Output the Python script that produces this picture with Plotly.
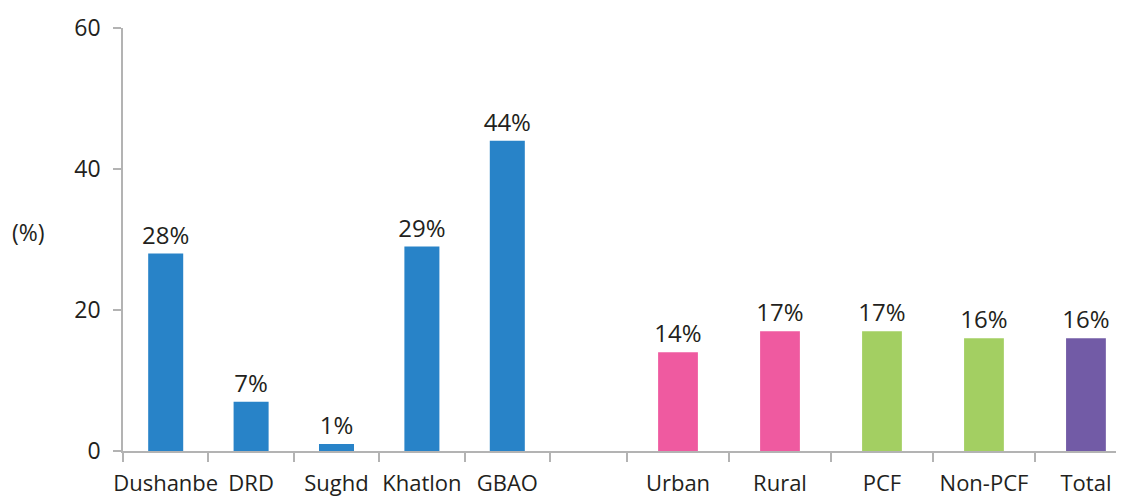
import plotly.graph_objects as go

# ---------- Data ----------
regions = ["Dushanbe", "DRD", "Sughd", "Khatlon", "GBAO"]
region_vals = [28, 7, 1, 29, 44]

groups = ["Urban", "Rural", "PCF", "Non-PCF", "Total"]
group_vals = [14, 17, 17, 16, 16]

blue = "#2883c8"
group_colors = ["#ef5aa0", "#ef5aa0", "#a3cf62", "#a3cf62", "#725ba6"]

font_family = "Open Sans, Noto Sans, sans-serif"
text_color = "#231f20"
axis_color = "#b3b3b3"

fig = go.Figure()

fig.add_trace(go.Bar(
    x=regions, y=region_vals, xaxis="x", yaxis="y",
    marker=dict(color=blue, line=dict(width=0)),
    texttemplate="%{y}%", textposition="outside", cliponaxis=False,
    constraintext="none",
    textfont=dict(size=24, color=text_color),
    width=0.41, showlegend=False,
))
fig.add_trace(go.Bar(
    x=groups, y=group_vals, xaxis="x2", yaxis="y",
    marker=dict(color=group_colors, line=dict(width=0)),
    texttemplate="%{y}%", textposition="outside", cliponaxis=False,
    constraintext="none",
    textfont=dict(size=24, color=text_color),
    width=0.39, showlegend=False,
))

split = 427 / 1001

common_x = dict(
    type="category", showline=True, linecolor=axis_color, linewidth=1.5,
    ticks="outside", tickson="boundaries", ticklen=9, tickcolor=axis_color,
    tickwidth=1.5, showgrid=False, zeroline=False, fixedrange=True,
    tickangle=0, automargin=False,
    tickfont=dict(size=22, color=text_color), ticklabelstandoff=12,
)

# page body has an 8px margin, so the figure is sized to fit the window
fig.update_layout(
    width=1116, height=488,
    margin=dict(l=115, r=0, t=20, b=45),
    paper_bgcolor="white", plot_bgcolor="white",
    font=dict(family=font_family, color=text_color),
    xaxis=dict(common_x, domain=[0, split], range=[-0.5, 4.5]),
    xaxis2=dict(common_x, domain=[split, 1], range=[-1.255, 4.373], anchor="y"),
    yaxis=dict(
        range=[0, 60], tickvals=[0, 20, 40, 60], showline=True,
        linecolor=axis_color, linewidth=1.5, ticks="outside", ticklen=8,
        tickcolor=axis_color, tickwidth=1.5, showgrid=False, zeroline=False,
        automargin=False,
        tickfont=dict(size=23, color=text_color), ticklabelstandoff=8,
    ),
    annotations=[dict(
        text="(%)", xref="paper", yref="y", x=-0.076, y=31,
        xanchor="right", yanchor="middle", showarrow=False,
        font=dict(size=23, color=text_color),
    )],
)

fig.write_html("out.html")
